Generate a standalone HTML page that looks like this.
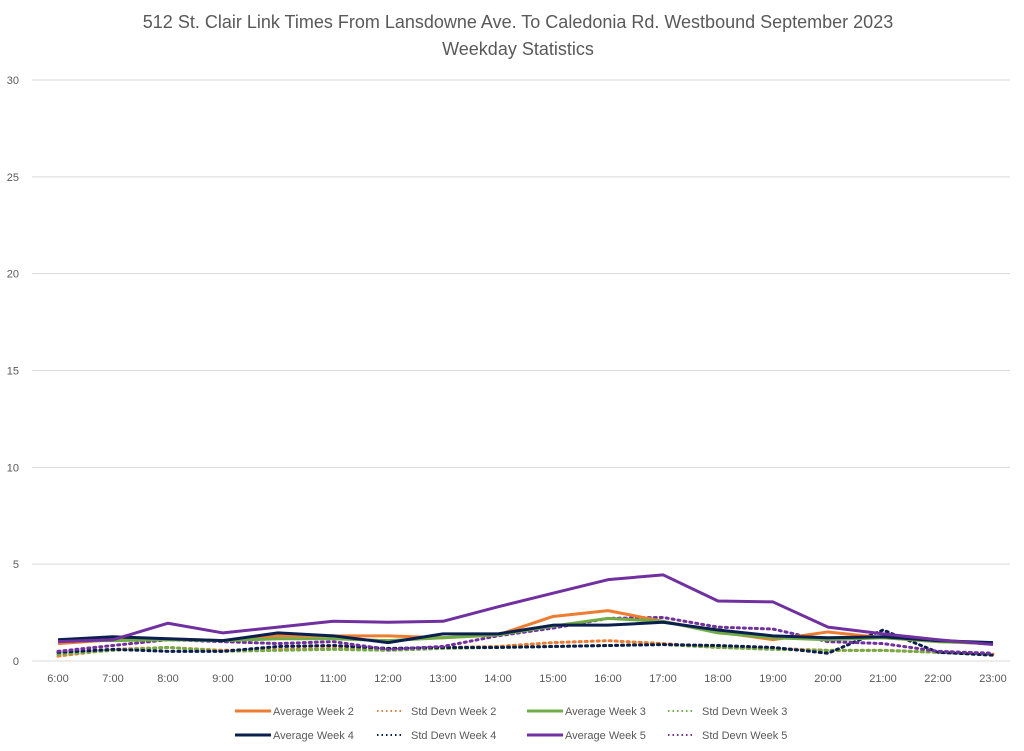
<!DOCTYPE html>
<html><head><meta charset="utf-8"><style>
body{margin:0;background:#fff;font-family:"Liberation Sans",sans-serif;}
svg{display:block}
</style></head><body>
<svg id="chart" width="1024" height="751">
<text x="518" y="28" text-anchor="middle" font-size="18" fill="#595959">512 St. Clair Link Times From Lansdowne Ave. To Caledonia Rd. Westbound September 2023</text>
<text x="518" y="55" text-anchor="middle" font-size="18" fill="#595959">Weekday Statistics</text>
<g id="grid"></g><g id="series"></g><g id="legend"></g>
</svg>
<script>
const categories=["6:00","7:00","8:00","9:00","10:00","11:00","12:00","13:00","14:00","15:00","16:00","17:00","18:00","19:00","20:00","21:00","22:00","23:00"];
const yTicks=[0,5,10,15,20,25,30];
const avgW2=[0.9,1.1,1.15,1.05,1.3,1.3,1.3,1.2,1.35,2.3,2.6,2.05,1.5,1.1,1.5,1.2,1.0,0.9];
const sdW2=[0.25,0.6,0.7,0.55,0.6,0.65,0.6,0.7,0.75,0.95,1.05,0.9,0.7,0.65,0.55,0.55,0.45,0.35];
const avgW3=[1.05,1.05,1.1,1.05,1.15,1.15,1.05,1.2,1.35,1.8,2.2,2.05,1.45,1.2,1.1,1.2,1.0,0.9];
const sdW3=[0.35,0.55,0.7,0.5,0.55,0.6,0.55,0.65,0.7,0.75,0.8,0.85,0.7,0.6,0.55,0.55,0.45,0.35];
const avgW4=[1.1,1.25,1.15,1.05,1.45,1.3,0.95,1.4,1.4,1.85,1.85,2.0,1.6,1.3,1.2,1.25,1.05,0.95];
const sdW4=[0.45,0.6,0.5,0.5,0.75,0.8,0.65,0.7,0.7,0.75,0.8,0.85,0.8,0.7,0.4,1.6,0.45,0.3];
const avgW5=[1.0,1.1,1.95,1.45,1.75,2.05,2.0,2.05,2.8,3.5,4.2,4.45,3.1,3.05,1.75,1.4,1.1,0.85];
const sdW5=[0.5,0.8,1.1,1.0,0.9,1.0,0.6,0.75,1.3,1.7,2.2,2.25,1.75,1.65,1.0,0.9,0.5,0.4];
const NS="http://www.w3.org/2000/svg";
const x0=58,dx=55,yBase=661,yTop=80,yMax=30;
const X=i=>x0+i*dx, Y=v=>yBase-(v/yMax)*(yBase-yTop);
const grid=document.getElementById('grid');
yTicks.forEach(t=>{
 const l=document.createElementNS(NS,'line');
 l.setAttribute('x1',32);l.setAttribute('x2',1010);l.setAttribute('y1',Y(t));l.setAttribute('y2',Y(t));
 l.setAttribute('stroke','#d9d9d9');l.setAttribute('stroke-width',1);
 
 
 grid.appendChild(l);
 const tx=document.createElementNS(NS,'text');
 tx.setAttribute('x',19);tx.setAttribute('y',Y(t)+4);tx.setAttribute('text-anchor','end');
 tx.setAttribute('font-size',11);tx.setAttribute('fill','#595959');tx.textContent=t;
 
 
 grid.appendChild(tx);
});
categories.forEach((c,i)=>{
 const tx=document.createElementNS(NS,'text');
 tx.setAttribute('x',X(i));tx.setAttribute('y',682);tx.setAttribute('text-anchor','middle');
 tx.setAttribute('font-size',11);tx.setAttribute('fill','#595959');tx.textContent=c;
 
 
 grid.appendChild(tx);
});
const seriesDefs=[
 {d:sdW2,c:'#ED7D31',dot:true,n:'Std Devn Week 2'},
 {d:sdW3,c:'#70AD47',dot:true,n:'Std Devn Week 3'},
 {d:sdW4,c:'#0B1F4F',dot:true,n:'Std Devn Week 4'},
 {d:sdW5,c:'#7030A0',dot:true,n:'Std Devn Week 5'},
 {d:avgW2,c:'#ED7D31',dot:false,n:'Average Week 2'},
 {d:avgW3,c:'#70AD47',dot:false,n:'Average Week 3'},
 {d:avgW4,c:'#0B1F4F',dot:false,n:'Average Week 4'},
 {d:avgW5,c:'#7030A0',dot:false,n:'Average Week 5'}];
const sg=document.getElementById('series');
seriesDefs.forEach(s=>{
 const p=document.createElementNS(NS,'polyline');
 p.setAttribute('points',s.d.map((v,i)=>X(i)+','+Y(v)).join(' '));
 p.setAttribute('fill','none');p.setAttribute('stroke',s.c);p.setAttribute('stroke-width',3);
 if(s.dot){p.setAttribute('stroke-dasharray','2 4');p.setAttribute('stroke-linecap','round');}
 p.setAttribute('stroke-linejoin','round');
 
 
 sg.appendChild(p);
});
const legendOrder=[4,0,5,1,6,2,7,3];
const lg=document.getElementById('legend');
const colX=[235,377,527,668];
legendOrder.forEach((k,j)=>{
 const s=seriesDefs[k];
 const row=Math.floor(j/4),col=j%4;
 const lx=colX[col],ly=711+row*24;
 const g=document.createElementNS(NS,'g');
 
 
 const l=document.createElementNS(NS,'line');
 l.setAttribute('x1',lx);l.setAttribute('x2',lx+s.dot?lx+26:lx+36);
 l.setAttribute('x2',s.dot?lx+26:lx+36);
 l.setAttribute('y1',ly);l.setAttribute('y2',ly);l.setAttribute('stroke',s.c);l.setAttribute('stroke-width',3);
 if(s.dot){l.setAttribute('stroke-dasharray','1.5 3');l.setAttribute('stroke-width',2);}
 g.appendChild(l);
 const t=document.createElementNS(NS,'text');
 t.setAttribute('x',s.dot?lx+34:lx+38);t.setAttribute('y',ly+4);t.setAttribute('font-size',11);
 t.setAttribute('fill','#595959');t.textContent=s.n;
 g.appendChild(t);
 lg.appendChild(g);
});
</script>
</body></html>
